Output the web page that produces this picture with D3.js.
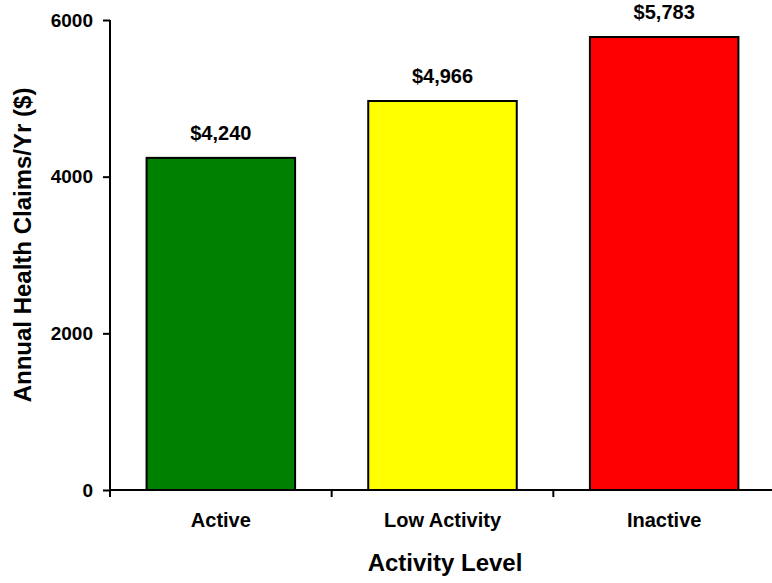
<!DOCTYPE html>
<html>
<head>
<meta charset="utf-8">
<script src="https://cdn.jsdelivr.net/npm/d3@7"></script>
<style>
  html, body { margin: 0; padding: 0; background: #fff; }
  svg { display: block; font-family: "Liberation Sans", Arial, sans-serif; font-weight: bold; }
</style>
</head>
<body>
<svg id="chart" width="772" height="583"></svg>
<script>
const categories = ["Active", "Low Activity", "Inactive"];
const values = [4240, 4966, 5783];
const valueLabels = ["$4,240", "$4,966", "$5,783"];
const barColors = ["#008000", "#FFFF00", "#FF0000"];
const yTicks = [0, 2000, 4000, 6000];

const svg = d3.select("#chart");
const x = d3.scaleBand().domain(categories).range([110, 775]).paddingInner(0.33).paddingOuter(0.165);
const xb = d3.scaleBand().domain(categories).range([110, 775]);
const y = d3.scaleLinear().domain([0, 6000]).range([490, 20]);

// bars
svg.selectAll("rect.bar").data(categories).enter().append("rect")
  .attr("class", "bar")
  .attr("x", d => x(d))
  .attr("width", x.bandwidth())
  .attr("y", (d, i) => y(values[i]))
  .attr("height", (d, i) => y(0) - y(values[i]))
  .attr("fill", (d, i) => barColors[i])
  .attr("stroke", "#000")
  .attr("stroke-width", 2);

// value labels
svg.selectAll("text.val").data(categories).enter().append("text")
  .attr("class", "val")
  .attr("x", d => x(d) + x.bandwidth() / 2)
  .attr("y", (d, i) => y(values[i]) - 18)
  .attr("text-anchor", "middle")
  .attr("font-size", 20)
  .attr("fill", "#000")
  .text((d, i) => valueLabels[i]);

// y axis
const gy = svg.append("g").attr("transform", "translate(110,0)")
  .call(d3.axisLeft(y).tickValues(yTicks).tickFormat(d3.format("d")).tickSize(7).tickPadding(10));
gy.select(".domain").attr("stroke", "#000").attr("stroke-width", 2).attr("d", "M0,20V490");
gy.selectAll(".tick line").attr("stroke", "#000").attr("stroke-width", 2);
gy.selectAll(".tick text").attr("font-size", 19)
  .attr("font-family", "'Liberation Sans', Arial, sans-serif").attr("font-weight", "bold").attr("fill", "#000");

// x axis line
svg.append("line").attr("x1", 110).attr("x2", 772).attr("y1", y(0)).attr("y2", y(0))
  .attr("stroke", "#000").attr("stroke-width", 2);
// x ticks at band boundaries
const boundaries = categories.map(d => xb(d));
svg.selectAll("line.xt").data(boundaries).enter().append("line")
  .attr("class", "xt")
  .attr("x1", d => d).attr("x2", d => d)
  .attr("y1", y(0)).attr("y2", y(0) + 7)
  .attr("stroke", "#000").attr("stroke-width", 2);

// category labels
svg.selectAll("text.cat").data(categories).enter().append("text")
  .attr("class", "cat")
  .attr("x", d => xb(d) + xb.bandwidth() / 2)
  .attr("y", 527)
  .attr("text-anchor", "middle")
  .attr("font-size", 20)
  .attr("fill", "#000")
  .text(d => d);

// axis titles
svg.append("text")
  .attr("x", 445).attr("y", 571)
  .attr("text-anchor", "middle")
  .attr("font-size", 24)
  .text("Activity Level");

svg.append("text")
  .attr("transform", "translate(31,245) rotate(-90)")
  .attr("text-anchor", "middle")
  .attr("font-size", 24)
  .text("Annual Health Claims/Yr ($)");
</script>
</body>
</html>
